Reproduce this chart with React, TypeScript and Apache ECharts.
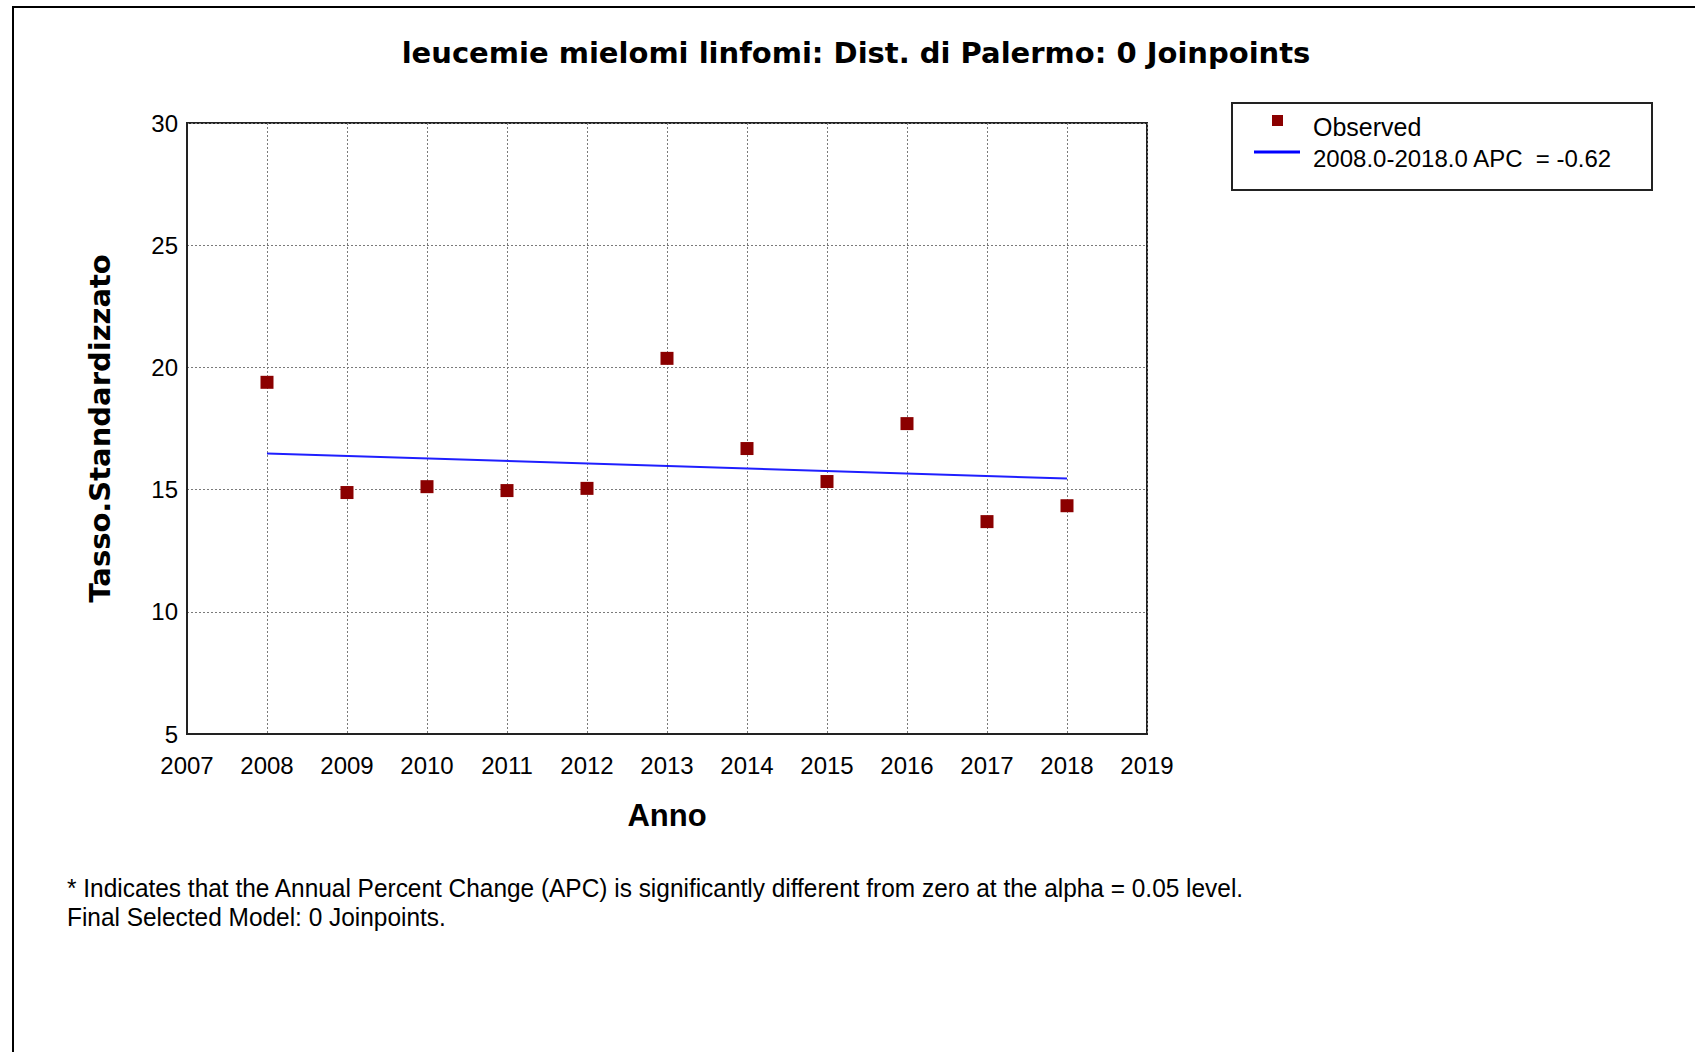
import React, { useEffect, useRef } from "react";
import * as echarts from "echarts";

const years = [2008, 2009, 2010, 2011, 2012, 2013, 2014, 2015, 2016, 2017, 2018];
const observed = [19.39, 14.88, 15.12, 14.96, 15.05, 20.37, 16.68, 15.33, 17.7, 13.69, 14.34];
const fitYears = [2008, 2018];
const fitValues = [16.48, 15.45];
const xRange = [2007, 2019];
const yRange = [5, 30];

const titleText = "leucemie mielomi linfomi: Dist. di Palermo: 0 Joinpoints";
const observedName = "Observed";
const fitName = "2008.0-2018.0 APC  = -0.62";
const footnotes = [
  "* Indicates that the Annual Percent Change (APC) is significantly different from zero at the alpha = 0.05 level.",
  "Final Selected Model: 0 Joinpoints.",
];

const SANS = "'Liberation Sans', Arial, sans-serif";
const BOLD_SANS = "'DejaVu Sans', Verdana, sans-serif";

export default function App() {
  const ref = useRef<HTMLDivElement>(null);
  useEffect(() => {
    if (!ref.current) return;
    const chart = echarts.init(ref.current, null, { renderer: "svg" });
    const option: any = {
      animation: false,
      backgroundColor: "#ffffff",
      grid: {
        left: 187,
        top: 123,
        width: 960,
        height: 611,
        show: true,
        borderColor: "#222",
        borderWidth: 2,
        containLabel: false,
      },
      xAxis: {
        type: "value",
        min: xRange[0],
        max: xRange[1],
        interval: 1,
        name: "Anno",
        nameLocation: "middle",
        nameGap: 66,
        nameTextStyle: { fontFamily: SANS, fontWeight: "bold", fontSize: 31, color: "#000" },
        axisLine: { show: true, lineStyle: { color: "#222", width: 2 } },
        axisTick: { show: false },
        axisLabel: { color: "#000", fontFamily: SANS, fontSize: 24, margin: 19, formatter: (v: number) => String(v) },
        splitLine: { show: true, lineStyle: { color: "#7a7a7a", type: [2, 2], width: 1 } },
      },
      yAxis: {
        type: "value",
        min: yRange[0],
        max: yRange[1],
        interval: 5,
        name: "Tasso.Standardizzato",
        nameLocation: "middle",
        nameGap: 73,
        nameTextStyle: { fontFamily: BOLD_SANS, fontWeight: "bold", fontSize: 29, color: "#000" },
        axisLine: { show: true, lineStyle: { color: "#222", width: 2 } },
        axisTick: { show: false },
        axisLabel: { color: "#000", fontFamily: SANS, fontSize: 24, margin: 9 },
        splitLine: { show: true, lineStyle: { color: "#7a7a7a", type: [2, 2], width: 1 } },
      },
      legend: [
        {
          data: [{ name: observedName, icon: "rect", itemStyle: { color: "#8b0000", opacity: 1 } }],
          orient: "vertical",
          left: 1272,
          top: 102,
          padding: 0,
          itemWidth: 11,
          itemHeight: 11,
          selectedMode: false,
          formatter: "{t|{name}}",
          textStyle: {
            rich: {
              t: { fontFamily: SANS, fontSize: 25, lineHeight: 30, color: "#000", padding: [12, 0, 0, 25] },
            },
          },
        },
        {
          data: [{ name: fitName, icon: "rect", itemStyle: { color: "#0000ff" } }],
          orient: "vertical",
          left: 1254,
          top: 134,
          padding: 0,
          itemWidth: 46,
          itemHeight: 3,
          selectedMode: false,
          formatter: "{t|{name}}",
          textStyle: {
            rich: {
              t: { fontFamily: SANS, fontSize: 24, lineHeight: 30, color: "#000", padding: [12, 0, 0, 8] },
            },
          },
        },
      ],
      graphic: [
        {
          type: "rect",
          shape: { x: 13, y: 7, width: 1720, height: 1100 },
          style: { fill: "none", stroke: "#000", lineWidth: 2 },
          silent: true,
        },
        {
          type: "rect",
          shape: { x: 1232, y: 103, width: 420, height: 87 },
          style: { fill: "none", stroke: "#222", lineWidth: 2 },
          silent: true,
        },
        {
          type: "text",
          x: 856,
          y: 53,
          style: {
            text: titleText,
            fontFamily: BOLD_SANS,
            fontWeight: "bold",
            fontSize: 29,
            fill: "#000",
            align: "center",
            verticalAlign: "middle",
          },
        },
        ...footnotes.map((t, i) => ({
          type: "text",
          x: 67,
          y: 888 + i * 29,
          scaleX: 0.94,
          style: {
            text: t,
            fontFamily: SANS,
            fontSize: 26,
            fill: "#000",
            align: "left",
            verticalAlign: "middle",
          },
        })),
      ],
      series: [
        {
          name: observedName,
          type: "scatter",
          symbol: "rect",
          symbolSize: 13,
          itemStyle: { color: "#8b0000", opacity: 1 },
          data: years.map((y, i) => [y, observed[i]]),
          z: 3,
        },
        {
          name: fitName,
          type: "line",
          symbol: "none",
          showSymbol: false,
          lineStyle: { color: "#1f1fff", width: 2 },
          itemStyle: { color: "#0000ff" },
          data: fitYears.map((y, i) => [y, fitValues[i]]),
          z: 2,
        },
      ],
    };
    chart.setOption(option);
    return () => chart.dispose();
  }, []);
  return (
    <div
      ref={ref}
      style={{ position: "fixed", left: 0, top: 0, width: 1695, height: 1052, background: "#fff" }}
    />
  );
}
